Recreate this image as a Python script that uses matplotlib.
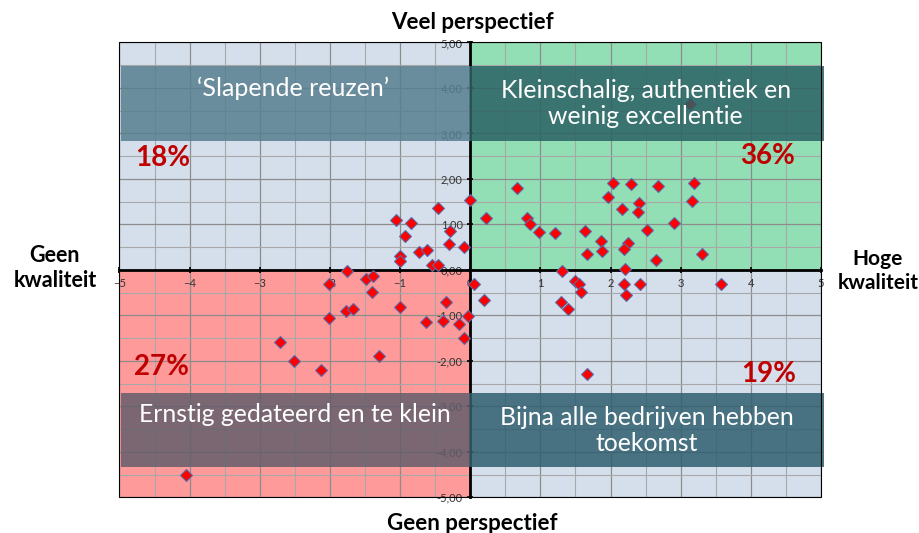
import matplotlib.pyplot as plt
from matplotlib.patches import Rectangle
import numpy as np

plt.rcParams['font.family'] = ['Lato', 'DejaVu Sans']

# kwaliteit (x) en perspectief (y) per bedrijf
kwaliteit = [-1.06, -0.46, -0.84, -0.29, -0.93, -0.30, -0.09, -0.73, -0.61, -1.00,
             -1.00, -0.54, -0.46,
             -1.75, -1.49, -1.39, -2.01, -1.40, -0.34, -1.77, -1.67, -1.00, -2.02,
             -0.63, -0.39, -0.16, -0.03, -0.09, -2.71, -2.51, -2.12, -1.30, -4.05,
             0.00, 0.67, 0.23, 0.81, 0.85, 0.98, 1.21, 1.63, 1.87, 1.88, 1.67,
             2.03, 2.29, 2.68, 3.19, 1.97, 2.17, 2.40, 2.39, 3.16, 2.91, 2.52,
             2.25, 2.19, 3.31, 2.65, 3.14,
             0.05, 0.20, 1.31, 2.20, 1.50, 1.55, 1.58, 1.29, 1.40, 2.19, 2.42,
             2.22, 3.58, 1.66]
perspectief = [1.10, 1.35, 1.04, 0.86, 0.75, 0.58, 0.50, 0.39, 0.44, 0.31,
               0.20, 0.11, 0.11,
               -0.02, -0.19, -0.13, -0.30, -0.48, -0.71, -0.90, -0.85, -0.82, -1.05,
               -1.15, -1.12, -1.18, -1.01, -1.50, -1.59, -2.00, -2.20, -1.90, -4.51,
               1.54, 1.79, 1.15, 1.15, 1.00, 0.83, 0.82, 0.86, 0.63, 0.42, 0.36,
               1.90, 1.89, 1.84, 1.90, 1.60, 1.33, 1.46, 1.28, 1.51, 1.04, 0.88,
               0.60, 0.47, 0.36, 0.22, 3.64,
               -0.31, -0.66, -0.02, 0.01, -0.25, -0.30, -0.49, -0.70, -0.85, -0.31, -0.31,
               -0.55, -0.31, -2.29]

x_ticks = np.arange(-5, 6)
y_ticks = np.arange(-5, 6)
y_tick_labels = [('%.2f' % v).replace('.', ',') for v in y_ticks]

# kwadranten: linksboven, rechtsboven, linksonder, rechtsonder
quad_colors = ['#d5dfec', '#93dfb5', '#ff9a9a', '#d5dfec']
quad_pct = ['18%', '36%', '27%', '19%']
box_text = ['\u2018Slapende reuzen\u2019', 'Kleinschalig, authentiek en\nweinig excellentie',
            'Ernstig gedateerd en te klein', 'Bijna alle bedrijven hebben\ntoekomst']
box_colors = ['#577f90', '#2b6165', '#635e6c', '#2f5f70']

fig = plt.figure(figsize=(9.19, 5.33), dpi=100)
ax = fig.add_axes([0.130, 0.067, 0.7633, 0.8533])
ax.set_xlim(-5, 5)
ax.set_ylim(-5, 5)

# achtergrond per kwadrant
for (x0, y0), c in zip([(-5, 0), (0, 0), (-5, -5), (0, -5)], quad_colors):
    ax.add_patch(Rectangle((x0, y0), 5, 5, color=c, zorder=0, lw=0))

ax.set_xticks(x_ticks)
ax.set_yticks(y_ticks)
ax.set_yticklabels(y_tick_labels)
ax.set_xticks(np.arange(-5, 5.01, 0.5), minor=True)
ax.set_yticks(np.arange(-5, 5.01, 0.5), minor=True)
ax.set_axisbelow(True)
ax.grid(which='major', color='#8c8c8c', lw=0.9)
ax.grid(which='minor', color='#a8a8a8', lw=0.8)
ax.tick_params(which='minor', length=0)
ax.tick_params(which='major', direction='inout', length=4, width=1.2,
               labelsize=8, labelcolor='#333333')

ax.spines['left'].set_position(('data', 0))
ax.spines['bottom'].set_position(('data', 0))
ax.spines['left'].set_linewidth(2)
ax.spines['bottom'].set_linewidth(2)
ax.spines['top'].set_visible(False)
ax.spines['right'].set_visible(False)
ax.add_patch(Rectangle((0, 0), 1, 1, transform=ax.transAxes, fill=False,
                       lw=0.8, ec='black', clip_on=False, zorder=6))

ax.plot(kwaliteit, perspectief, 'D', ms=6, mfc='red', mec='#5a6aa8', mew=0.8, zorder=3)

# tekstvakken
for (x0, y0, w, h), c in zip([(-4.98, 2.84, 4.98, 1.64), (0, 2.84, 5.04, 1.64),
                              (-4.98, -4.33, 4.98, 1.63), (0, -4.33, 5.04, 1.63)], box_colors):
    ax.add_patch(Rectangle((x0, y0), w, h, color=c, alpha=0.85, lw=0, zorder=5, clip_on=False))

ax.text(-2.53, 4.0, box_text[0], color='white', fontsize=18, ha='center', va='center', zorder=7)
ax.text(2.5, 3.66, box_text[1], color='white', fontsize=17.8, ha='center', va='center',
        linespacing=1.2, zorder=7)
ax.text(-2.5, -3.19, box_text[2], color='white', fontsize=17.8, ha='center', va='center', zorder=7)
ax.text(2.52, -3.53, box_text[3], color='white', fontsize=17.8, ha='center', va='center',
        linespacing=1.2, zorder=7)

for (x, y), t in zip([(-4.38, 2.46), (4.24, 2.51), (-4.40, -2.14), (4.26, -2.30)], quad_pct):
    ax.text(x, y, t, color='#c00000', fontsize=20, fontweight='bold',
            ha='center', va='center', zorder=7)

fig.text(472 / 919, 1 - 22 / 533, 'Veel perspectief', fontsize=16, fontweight='bold',
         ha='center', va='center')
fig.text(472 / 919, 1 - 523 / 533, 'Geen perspectief', fontsize=16, fontweight='bold',
         ha='center', va='center')
fig.text(55 / 919, 1 - 268 / 533, 'Geen\nkwaliteit', fontsize=15.5, fontweight='bold',
         ha='center', va='center', linespacing=1.2)
fig.text(878 / 919, 1 - 271 / 533, 'Hoge\nkwaliteit', fontsize=15, fontweight='bold',
         ha='center', va='center', linespacing=1.25)

fig.savefig('out.png', dpi=100)
